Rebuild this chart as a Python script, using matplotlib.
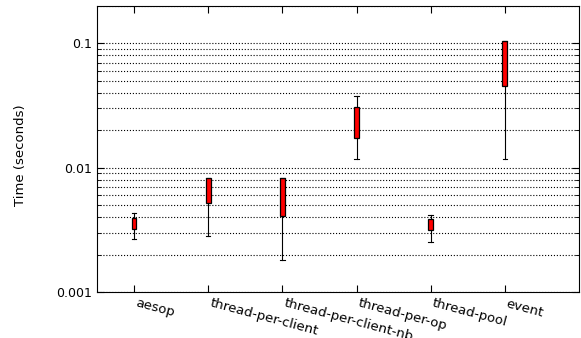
import numpy as np
import matplotlib
matplotlib.use('Agg')
import matplotlib.pyplot as plt

# Данi, прочитанi з малюнка ------------------------------------
names = ['aesop', 'thread-per-client', 'thread-per-client-nb',
         'thread-per-op', 'thread-pool', 'event']
whislo = [0.00267, 0.00283, 0.00181, 0.01183, 0.00253, 0.01183]
q1 = [0.00322, 0.00522, 0.0041, 0.01746, 0.00316, 0.0458]
med = [0.0036, 0.0068, 0.0060, 0.0240, 0.0035, 0.075]
q3 = [0.00395, 0.0083, 0.0083, 0.031, 0.00388, 0.1038]
whishi = [0.00434, 0.0083, 0.0083, 0.0381, 0.00418, 0.1038]

stats = []
for i in range(len(names)):
  stats.append(dict(label=names[i], whislo=whislo[i], q1=q1[i], med=med[i],
                    q3=q3[i], whishi=whishi[i], fliers=[]))

fig = plt.figure(figsize=(5.81, 3.38), dpi=100)
ax = fig.add_axes([97 / 581, 46 / 338, 482 / 581, 286 / 338])

ax.bxp(stats, positions=range(1, 7), widths=0.065, patch_artist=True,
       boxprops=dict(facecolor='red', edgecolor='black', linewidth=0.9),
       medianprops=dict(color='red', linewidth=0),
       whiskerprops=dict(color='black', linewidth=0.8, linestyle='-'),
       capprops=dict(color='black', linewidth=0.8), capwidths=0.06)

ax.set_yscale('log')
ax.set_ylim(0.001, 0.2)
ax.set_xlim(0.5, 7.0)
ax.set_yticks([0.001, 0.01, 0.1])
ax.set_yticklabels(['0.001', '0.01', '0.1'])
ax.yaxis.grid(True, which='both', linestyle=':', color='black', linewidth=0.8)
ax.set_axisbelow(True)

ax.tick_params(which='both', direction='in', top=True, right=True, labelsize=9)
ax.tick_params(which='major', length=5)
ax.tick_params(which='minor', length=3)
ax.set_xticks(range(1, 7))
ax.set_xticklabels(names, rotation=-15, ha='left', fontsize=9.5)
ax.set_ylabel('Time (seconds)', fontsize=9.5)
ax.yaxis.set_label_coords(-0.145, 0.479)

fig.savefig('out.png', dpi=100)
